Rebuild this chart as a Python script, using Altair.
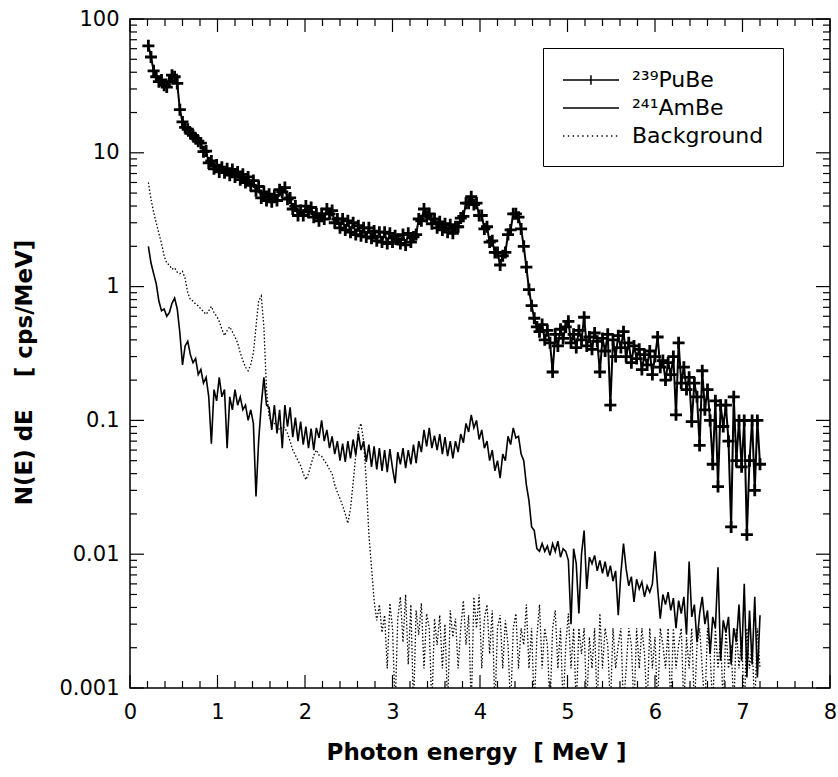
import altair as alt
import pandas as pd

FONT = "DejaVu Sans"

# channel grid (MeV): 0.21, 0.24, ... 7.20
E_START = 0.21
E_STEP = 0.03

pube = [
    63, 52, 41, 37, 34, 35, 32, 31, 34, 38,
    37, 33, 21, 17, 15.5, 15, 14, 13.5, 12.8, 12.2,
    11.8, 10.2, 10.3, 8.4, 8.7, 7.6, 8.1, 7.2, 7.8, 7.1,
    7.6, 6.8, 7.5, 6.6, 7.2, 6.3, 6.9, 6.0, 6.6, 5.7,
    6.2, 5.2, 5.6, 4.6, 5.1, 4.4, 4.9, 4.3, 4.8, 4.4,
    5.3, 5.1, 5.5, 4.5, 4.6, 3.8, 4.0, 3.4, 3.7, 3.4,
    4.0, 3.6, 3.9, 3.3, 3.5, 3.1, 3.5, 3.2, 3.8, 3.5,
    3.7, 3.0, 3.2, 2.75, 3.2, 2.65, 3.1, 2.55, 3.0, 2.45,
    2.85, 2.4, 2.75, 2.35, 2.75, 2.3, 2.6, 2.2, 2.55, 2.15,
    2.55, 2.1, 2.5, 2.15, 2.4, 2.25, 2.1, 2.45, 2.05, 2.5,
    2.15, 2.35, 2.45, 3.2, 3.1, 3.8, 3.35, 3.5, 2.95, 3.2,
    2.75, 3.05, 2.65, 2.95, 2.55, 2.9, 2.5, 2.8, 2.8, 3.25,
    3.35, 4.2, 4.2, 4.7, 4.1, 4.2, 3.4, 3.4, 2.7, 2.8,
    2.15, 2.2, 1.8, 1.8, 1.45, 1.7, 1.8, 2.45, 2.65, 3.5,
    3.5, 3.3, 2.7, 2.0, 1.4, 0.95, 0.72, 0.58, 0.50, 0.46,
    0.52, 0.40, 0.47, 0.38, 0.23, 0.44, 0.36, 0.48, 0.41, 0.50,
    0.55, 0.38, 0.44, 0.35, 0.47, 0.40, 0.59, 0.36, 0.42, 0.34,
    0.45, 0.39, 0.23, 0.41, 0.33, 0.44, 0.13, 0.40, 0.30, 0.43,
    0.35, 0.46, 0.30, 0.38, 0.27, 0.36, 0.29, 0.34, 0.24, 0.31,
    0.26, 0.33, 0.22, 0.30, 0.42, 0.25, 0.28, 0.20, 0.27, 0.22,
    0.30, 0.11, 0.38, 0.19, 0.25, 0.17, 0.21, 0.098, 0.19, 0.15,
    0.065, 0.235, 0.12, 0.17, 0.10, 0.047, 0.14, 0.032, 0.13, 0.09,
    0.13, 0.07, 0.016, 0.15, 0.05, 0.10, 0.045, 0.10, 0.014, 0.05,
    0.10, 0.03, 0.10, 0.047,
]

ambe = [
    2.0, 1.5, 1.25, 1.05, 0.78, 0.66, 0.68, 0.60, 0.64, 0.75,
    0.82, 0.68, 0.45, 0.26, 0.36, 0.39, 0.31, 0.27, 0.29, 0.22,
    0.24, 0.19, 0.21, 0.15, 0.067, 0.17, 0.14, 0.21, 0.15, 0.17,
    0.062, 0.15, 0.12, 0.17, 0.13, 0.15, 0.12, 0.13, 0.10, 0.12,
    0.095, 0.027, 0.07, 0.13, 0.21, 0.13, 0.125, 0.085, 0.13, 0.08,
    0.12, 0.062, 0.13, 0.09, 0.125, 0.075, 0.105, 0.07, 0.098, 0.066,
    0.09, 0.062, 0.087, 0.06, 0.088, 0.074, 0.1, 0.07, 0.085, 0.062,
    0.076, 0.056, 0.07, 0.05, 0.067, 0.049, 0.07, 0.052, 0.072, 0.055,
    0.08, 0.06, 0.07, 0.049, 0.066, 0.045, 0.064, 0.043, 0.062, 0.042,
    0.06, 0.041, 0.061, 0.044, 0.034, 0.058, 0.047, 0.062, 0.044, 0.06,
    0.047, 0.066, 0.048, 0.07, 0.058, 0.085, 0.064, 0.088, 0.062, 0.077,
    0.06, 0.079, 0.056, 0.075, 0.054, 0.07, 0.052, 0.07, 0.058, 0.079,
    0.068, 0.095, 0.082, 0.11, 0.088, 0.1, 0.072, 0.085, 0.062, 0.07,
    0.05, 0.06, 0.042, 0.05, 0.037, 0.056, 0.05, 0.076, 0.066, 0.088,
    0.074, 0.076, 0.056, 0.05, 0.033, 0.025, 0.016, 0.015, 0.011, 0.0105,
    0.012, 0.0105, 0.0115, 0.0098, 0.012, 0.0105, 0.0125, 0.0095, 0.011, 0.0105,
    0.009, 0.003, 0.011, 0.0085, 0.0036, 0.01, 0.015, 0.0055, 0.0095, 0.0085,
    0.0098, 0.0075, 0.009, 0.0072, 0.0088, 0.0068, 0.0082, 0.0063, 0.0075, 0.0035,
    0.0072, 0.012, 0.0078, 0.0058, 0.0068, 0.0044, 0.0065, 0.0055, 0.0062, 0.0048,
    0.0058, 0.0052, 0.006, 0.0105, 0.0056, 0.0033, 0.005, 0.0042, 0.0052, 0.0038,
    0.0047, 0.0028, 0.0045, 0.0036, 0.0048, 0.0025, 0.0088, 0.0034, 0.0042, 0.0022,
    0.0036, 0.0048, 0.003, 0.0038, 0.0018, 0.0034, 0.0028, 0.008, 0.0016, 0.0032,
    0.0026, 0.0034, 0.0015, 0.0028, 0.0022, 0.0042, 0.0016, 0.006, 0.0012, 0.0038,
    0.0015, 0.0048, 0.0012, 0.0035,
]

background = [
    6.0, 4.5, 3.6, 3.0, 2.5, 2.1, 1.7, 1.5, 1.45, 1.35,
    1.38, 1.28, 1.25, 1.3, 1.15, 0.9, 0.8, 0.78, 0.74, 0.72,
    0.68, 0.65, 0.62, 0.66, 0.71, 0.64, 0.6, 0.55, 0.48, 0.43,
    0.47, 0.5, 0.46, 0.42, 0.38, 0.32, 0.28, 0.25, 0.235, 0.26,
    0.32, 0.5, 0.78, 0.85, 0.5, 0.17, 0.105, 0.1, 0.095, 0.09,
    0.085, 0.09, 0.088, 0.08, 0.07, 0.06, 0.055, 0.05, 0.046, 0.04,
    0.036, 0.04, 0.047, 0.055, 0.06, 0.055, 0.054, 0.05, 0.047, 0.043,
    0.04, 0.033, 0.029, 0.026, 0.023, 0.02, 0.017, 0.022, 0.034, 0.055,
    0.085, 0.095, 0.07, 0.035, 0.014, 0.008, 0.0045,
    0.0032, 0.0042, 0.0026,
    0.0035, 0.0014, 0.0043, 0.0028, 0.0007, 0.0033, 0.0048, 0.0022, 0.005, 0.0015,
    0.0042, 0.0007, 0.0038, 0.0025, 0.0043, 0.0014, 0.0036, 0.0028, 0.0007, 0.0033,
    0.0021, 0.0035, 0.0014, 0.003, 0.0007, 0.0038, 0.0024, 0.0033, 0.0014, 0.0028,
    0.0045, 0.0021, 0.0035, 0.0007, 0.0048, 0.0028, 0.005, 0.0014, 0.0033, 0.0042,
    0.0018, 0.0038, 0.0007, 0.0028, 0.0035, 0.0014, 0.0032, 0.0021, 0.0007, 0.0028,
    0.0036, 0.0014, 0.0028, 0.0021, 0.0042, 0.0014, 0.0028, 0.0007, 0.0024, 0.0042,
    0.0014, 0.0028, 0.0021, 0.0007, 0.0028, 0.0038, 0.0014, 0.0028, 0.0007, 0.0021,
    0.0036, 0.0014, 0.0028, 0.0007, 0.0028, 0.0018, 0.0028, 0.0007, 0.0024, 0.0014,
    0.0028, 0.0007, 0.0036, 0.0014, 0.0028, 0.0021, 0.0007, 0.0028, 0.0014, 0.0021,
    0.0028, 0.0007, 0.0014, 0.0028, 0.0021, 0.0007, 0.0028, 0.0014, 0.0028, 0.0018,
    0.0007, 0.0028, 0.0014, 0.0024, 0.0007, 0.0028, 0.0021, 0.0014, 0.0028, 0.0007,
    0.0028, 0.0014, 0.0021, 0.0028, 0.0007, 0.0024, 0.0014, 0.0028, 0.0007, 0.0021,
    0.0028, 0.0014, 0.0007, 0.0028, 0.0018, 0.0007, 0.0028, 0.0014, 0.0024, 0.0007,
    0.0028, 0.0014, 0.0021, 0.0007, 0.0028, 0.0014, 0.0024, 0.0007, 0.0028, 0.0014,
    0.0021, 0.0007, 0.0028, 0.0014,
]

assert len(pube) == len(ambe) == len(background)
n = len(pube)
energy = [round(E_START + E_STEP * k, 2) for k in range(n)]

PU = "²³⁹PuBe"
AM = "²⁴¹AmBe"
BG = "Background"
series_names = [PU, AM, BG]

df = pd.DataFrame({
    "E": energy * 3,
    "N": pube + ambe + background,
    "series": [PU] * n + [AM] * n + [BG] * n,
})

# axis ticks
x_major = [0, 1, 2, 3, 4, 5, 6, 7, 8]
x_minor = [round(i * 0.2, 1) for i in range(1, 40) if i % 5 != 0]
y_major = [0.001, 0.01, 0.1, 1, 10, 100]
y_minor = [m * d for d in [0.001, 0.01, 0.1, 1, 10] for m in range(2, 10)]

W, H = 700, 669

x_scale = alt.Scale(domain=[0, 8], nice=False, zero=False)
y_scale = alt.Scale(type="log", domain=[0.001, 100], nice=False)

x_axis = alt.Axis(
    values=x_major, format="d", ticks=False, domain=False, grid=False,
    labelFontSize=21, labelPadding=13, labelFlush=False, labelOverlap=False,
    title="Photon energy\u00a0 [ MeV ]", titleFontSize=23, titleFontWeight="bold",
    titleX=346, titleY=64, titleBaseline="middle", titleAlign="center",
)
y_axis = alt.Axis(
    values=y_major, format="~g", ticks=False, domain=False, grid=False,
    labelFontSize=21, labelPadding=11, labelFlush=False, labelOverlap=False,
    title="N(E) dE\u00a0\u00a0\u00a0 [ cps/MeV]", titleFontSize=23, titleFontWeight="bold",
    titleAngle=270, titleX=-106, titleY=353, titleBaseline="middle", titleAlign="center",
)


def X(field):
    return alt.X(field, scale=x_scale, axis=x_axis)


def Y(field):
    return alt.Y(field, scale=y_scale, axis=y_axis)


base = alt.Chart(df)

# legend symbols (custom paths: line with cross / plain line / dotted line)
LEG_PU = "M-1,0H3.67M1.33,-0.4V0.4"
LEG_AM = "M-1,0H3.67"
dots = []
p = -1.0
while p < 3.67:
    dots.append(f"M{p:.2f},0H{p + 0.12:.2f}")
    p += 0.4
LEG_BG = "".join(dots)

legend_layer = base.mark_point(opacity=0, color="black", filled=False).encode(
    x=X("E:Q"),
    y=Y("N:Q"),
    shape=alt.Shape(
        "series:N",
        scale=alt.Scale(domain=series_names, range=[LEG_PU, LEG_AM, LEG_BG]),
        legend=alt.Legend(
            title=None, orient="none", legendX=413, legendY=29,
            padding=19, strokeColor="black", fillColor="white",
            symbolSize=576, symbolStrokeWidth=1.5, symbolStrokeColor="black",
            symbolOpacity=1, symbolFillColor="transparent",
            labelFont=FONT, labelFontSize=22, labelOffset=44, labelColor="black",
            rowPadding=4,
        ),
    ),
)

bg_line = base.transform_filter(alt.datum.series == BG).mark_line(
    color="black", strokeWidth=1.3, strokeDash=[1.5, 2], clip=True
).encode(x=X("E:Q"), y=Y("N:Q"))

am_line = base.transform_filter(alt.datum.series == AM).mark_line(
    color="black", strokeWidth=1.6, clip=True
).encode(x=X("E:Q"), y=Y("N:Q"))

pu_line = base.transform_filter(alt.datum.series == PU).mark_line(
    color="black", strokeWidth=2, clip=True
).encode(x=X("E:Q"), y=Y("N:Q"))

pu_pts = base.transform_filter(alt.datum.series == PU).mark_point(
    shape="M-1,0H1M0,-1V1", size=144, strokeWidth=2.8, color="black",
    opacity=1, filled=False, clip=True
).encode(x=X("E:Q"), y=Y("N:Q"))


def x_ticks(vals, length):
    d = pd.DataFrame({"v": vals})
    bottom = alt.Chart(d).mark_rule(color="black", strokeWidth=1.2).encode(
        x=X("v:Q"), y=alt.value(H), y2=alt.value(H - length),
    )
    top = alt.Chart(d).mark_rule(color="black", strokeWidth=1.2).encode(
        x=X("v:Q"), y=alt.value(0), y2=alt.value(length),
    )
    return [bottom, top]


def y_ticks(vals, length):
    d = pd.DataFrame({"v": vals})
    left = alt.Chart(d).mark_rule(color="black", strokeWidth=1.2).encode(
        y=Y("v:Q"), x=alt.value(0), x2=alt.value(length),
    )
    right = alt.Chart(d).mark_rule(color="black", strokeWidth=1.2).encode(
        y=Y("v:Q"), x=alt.value(W), x2=alt.value(W - length),
    )
    return [left, right]


tick_layers = (x_ticks(x_major, 13) + x_ticks(x_minor, 7)
               + y_ticks(y_major, 14) + y_ticks(y_minor, 7))

chart = alt.layer(
    bg_line, legend_layer, *tick_layers, am_line, pu_line, pu_pts
).properties(
    width=W, height=H,
    autosize=alt.AutoSizeParams(type="none"),
    padding={"left": 130, "top": 19, "right": 8, "bottom": 89},
    background="white",
).configure_view(
    stroke="black", strokeWidth=1.5
).configure_axis(
    labelFont=FONT, titleFont=FONT, labelColor="black", titleColor="black"
)

chart.save("out.html", embed_options={"renderer": "svg", "actions": False})
